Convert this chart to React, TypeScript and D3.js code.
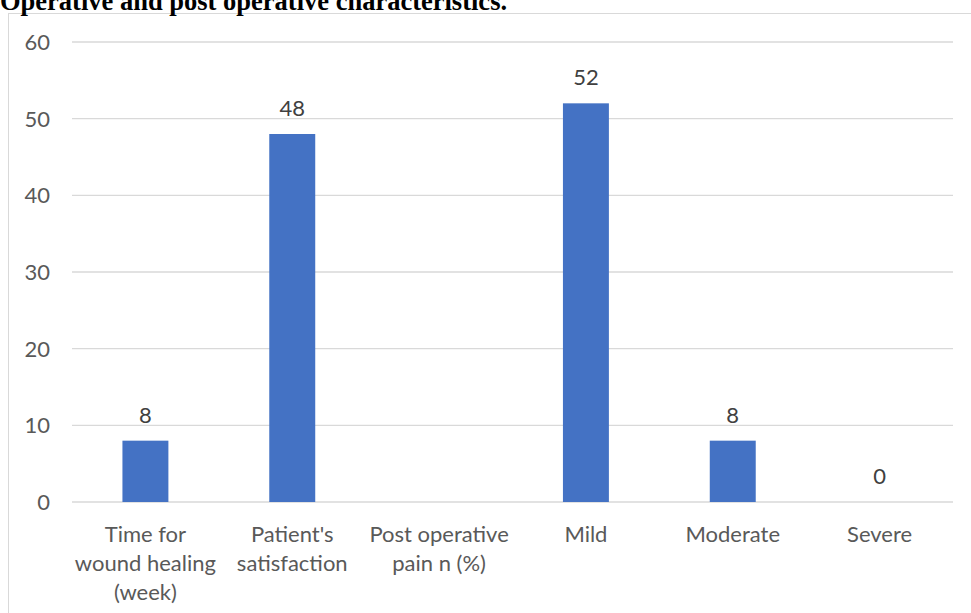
import React from "react";
import * as d3 from "d3";

const categories: string[][] = [
  ["Time for", "wound healing", "(week)"],
  ["Patient's", "satisfaction"],
  ["Post operative", "pain n (%)"],
  ["Mild"],
  ["Moderate"],
  ["Severe"],
];
const values: (number | null)[] = [8, 48, null, 52, 8, 0];
const yTicks: number[] = [0, 10, 20, 30, 40, 50, 60];
const title = "Operative and post operative characteristics.";

const W = 971;
const H = 613;
const plotLeft = 72;
const plotRight = 953;
const plotTop = 42;
const plotBottom = 502;
const font = "Lato, 'Open Sans', sans-serif";

export default function App() {
  const x = d3
    .scaleBand<number>()
    .domain(d3.range(categories.length))
    .range([plotLeft, plotRight])
    .paddingInner(0.687)
    .paddingOuter(0.3435);
  const y = d3.scaleLinear().domain([0, 60]).range([plotBottom, plotTop]);
  const bw = x.bandwidth();
  const center = (i: number) => (x(i) as number) + bw / 2;

  return (
    <svg
      width={W}
      height={H}
      style={{ position: "absolute", left: 0, top: 0, background: "#fff" }}
    >
      <rect x={0} y={0} width={W} height={H} fill="#fff" />
      <line x1={8.5} x2={8.5} y1={13} y2={H} stroke="#d9d9d9" strokeWidth={1} />
      <line x1={8} x2={W} y1={13.5} y2={13.5} stroke="#d9d9d9" strokeWidth={1} />
      <text
        x={0}
        y={10}
        fontFamily="'Liberation Serif', 'Times New Roman', serif"
        fontWeight="bold"
        fontSize={26.5}
        fill="#000"
      >
        {title}
      </text>
      {yTicks.map((t) => (
        <g key={t}>
          <line
            x1={plotLeft}
            x2={plotRight}
            y1={y(t)}
            y2={y(t)}
            stroke="#d9d9d9"
            strokeWidth={1.3}
          />
          <text
            x={50}
            y={y(t)}
            dy="0.36em"
            textAnchor="end"
            fontFamily={font}
            fontSize={22}
            fill="#595959"
          >
            {t}
          </text>
        </g>
      ))}
      {values.map((v, i) =>
        v === null ? null : (
          <g key={i}>
            {v > 0 && (
              <rect
                x={center(i) - bw / 2}
                y={y(v)}
                width={bw}
                height={y(0) - y(v)}
                fill="#4472c4"
              />
            )}
            <text
              x={center(i)}
              y={y(v) - 18}
              textAnchor="middle"
              fontFamily={font}
              fontSize={22}
              fill="#404040"
            >
              {v}
            </text>
          </g>
        )
      )}
      {categories.map((lines, i) => (
        <text
          key={i}
          textAnchor="middle"
          fontFamily={font}
          fontSize={22}
          fill="#595959"
        >
          {lines.map((l, j) => (
            <tspan key={j} x={center(i)} y={542 + j * 29}>
              {l}
            </tspan>
          ))}
        </text>
      ))}
    </svg>
  );
}
